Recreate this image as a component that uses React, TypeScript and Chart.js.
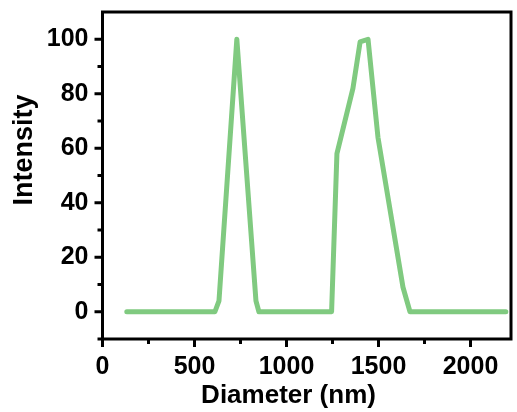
import React, { useEffect, useRef } from "react";
import { Chart, registerables } from "chart.js";

Chart.register(...registerables);

// Data
const diameters = [132, 611, 633, 730, 834, 850, 1245, 1274, 1361, 1400, 1443, 1497, 1633, 1671, 2192];
const intensities = [0, 0, 4, 100, 4, 0, 0, 58, 82, 99, 100, 64, 9, 0, 0];

const xTicks = [0, 500, 1000, 1500, 2000];
const xMinorTicks = [250, 750, 1250, 1750];
const yTicks = [0, 20, 40, 60, 80, 100];
const yMinorTicks = [-10, 10, 30, 50, 70, 90];

const xTitle = "Diameter (nm)";
const yTitle = "Intensity";

const FONT_FAMILY = "Arial, 'Liberation Sans', Helvetica, sans-serif";

const framePlugin = {
  id: "frame",
  afterDraw(chart: any) {
    const { ctx, chartArea: a, scales } = chart;
    const xs = scales.x;
    const ys = scales.y;
    ctx.save();
    ctx.strokeStyle = "#000";
    ctx.lineWidth = 3;
    ctx.lineCap = "butt";
    const seg = (x1: number, y1: number, x2: number, y2: number) => {
      ctx.beginPath();
      ctx.moveTo(x1, y1);
      ctx.lineTo(x2, y2);
      ctx.stroke();
    };
    for (const v of xTicks) {
      const p = xs.getPixelForValue(v);
      seg(p, a.bottom, p, a.bottom + 8);
    }
    for (const v of xMinorTicks) {
      const p = xs.getPixelForValue(v);
      seg(p, a.bottom, p, a.bottom + 5);
    }
    for (const v of yTicks) {
      const p = ys.getPixelForValue(v);
      seg(a.left, p, a.left - 8, p);
    }
    for (const v of yMinorTicks) {
      const p = ys.getPixelForValue(v);
      seg(a.left, p, a.left - 5, p);
    }
    ctx.lineJoin = "miter";
    ctx.strokeRect(a.left, a.top, a.right - a.left, a.bottom - a.top);

    // Axis titles
    ctx.fillStyle = "#000";
    ctx.font = `bold 26px ${FONT_FAMILY}`;
    ctx.textAlign = "center";
    ctx.textBaseline = "alphabetic";
    const xc = (xs.getPixelForValue(xTicks[0]) + xs.getPixelForValue(xTicks[xTicks.length - 1])) / 2;
    ctx.fillText(xTitle, xc + 2, 403);

    ctx.font = `bold 27px ${FONT_FAMILY}`;
    ctx.translate(32, 150);
    ctx.rotate(-Math.PI / 2);
    ctx.fillText(yTitle, 0, 0);
    ctx.restore();
  },
};

export default function App() {
  const canvasRef = useRef<HTMLCanvasElement | null>(null);

  useEffect(() => {
    const canvas = canvasRef.current;
    if (!canvas) return;
    const tickFont = { family: FONT_FAMILY, size: 25, weight: "bold" as const };
    const chart = new Chart(canvas, {
      type: "line",
      data: {
        datasets: [
          {
            data: diameters.map((d, i) => ({ x: d, y: intensities[i] })),
            borderColor: "#80ca80",
            borderWidth: 5,
            pointRadius: 0,
            tension: 0,
            fill: false,
            borderJoinStyle: "round",
            borderCapStyle: "round",
          },
        ],
      },
      options: {
        animation: false,
        responsive: false,
        maintainAspectRatio: false,
        layout: { padding: { left: 0, top: 12, right: 6, bottom: 0 } },
        plugins: {
          legend: { display: false },
          tooltip: { enabled: false },
        },
        scales: {
          x: {
            type: "linear",
            min: 0,
            max: 2220,
            afterBuildTicks: (s: any) => {
              s.ticks = xTicks.map((v) => ({ value: v }));
            },
            afterFit: (s: any) => {
              s.height = 73;
              s.paddingLeft = 0;
              s.paddingRight = 0;
            },
            grid: { display: false, drawTicks: false },
            border: { display: false },
            ticks: {
              font: tickFont,
              color: "#000",
              padding: 13,
              maxRotation: 0,
              autoSkip: false,
              callback: (v: any) => String(v),
            },
          },
          y: {
            type: "linear",
            min: -10,
            max: 110,
            afterBuildTicks: (s: any) => {
              s.ticks = yTicks.map((v) => ({ value: v }));
            },
            afterFit: (s: any) => {
              s.width = 102.5;
              s.paddingTop = 0;
              s.paddingBottom = 0;
            },
            grid: { display: false, drawTicks: false },
            border: { display: false },
            ticks: {
              font: tickFont,
              color: "#000",
              padding: 14,
              autoSkip: false,
              callback: (v: any) => String(v),
            },
          },
        },
      },
      plugins: [framePlugin],
    });
    return () => chart.destroy();
  }, []);

  return (
    <div style={{ position: "absolute", left: 0, top: 0, width: 517, height: 412, background: "#fff" }}>
      <canvas ref={canvasRef} width={517} height={412} />
    </div>
  );
}
